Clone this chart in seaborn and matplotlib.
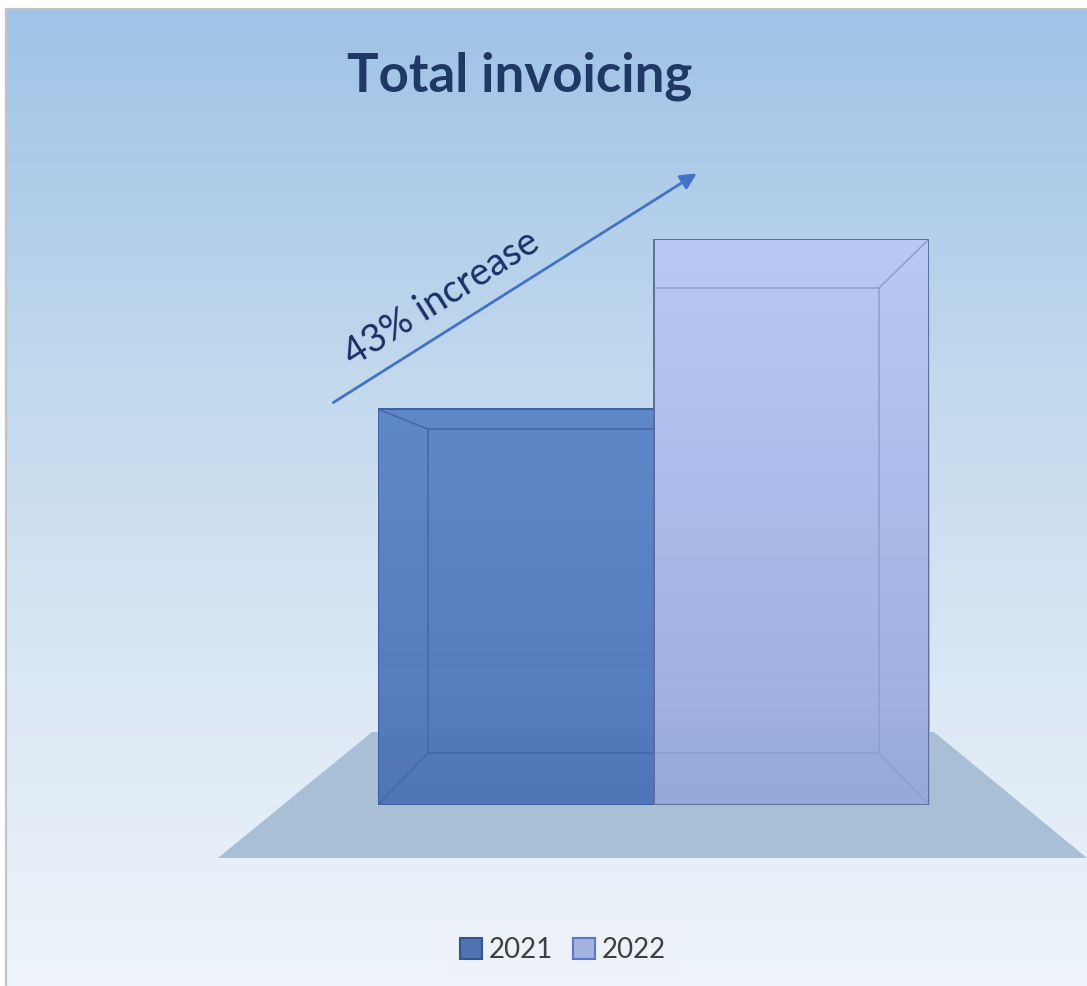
import numpy as np
import pandas as pd
import seaborn as sns
import matplotlib.pyplot as plt
from matplotlib.patches import Polygon, Patch
from matplotlib.colors import LinearSegmentedColormap

# --- data ---
years = ["2021", "2022"]
invoicing = [100, 143]
title_text = "Total invoicing"
increase_label = "43% increase"

front_colors = ["#5a84c6", "#bacaf7"]
bottom_colors = ["#4b72b7", "#97a8da"]
edge_colors = ["#3f5e9e", "#5f6e9c"]
legend_fill = ["#4f72b3", "#a3b3e0"]
legend_edge = ["#34558f", "#5a78c8"]

sns.set_theme(style="white")
plt.rcParams["font.family"] = ["Lato", "DejaVu Sans"]

W, H = 1087, 986
fig = plt.figure(figsize=(W / 100, H / 100), dpi=100)
fig.patch.set_facecolor("white")

# background panel in pixel coordinates
bg = fig.add_axes([0, 0, 1, 1])
bg.set_xlim(0, W)
bg.set_ylim(H, 0)
bg.axis("off")

grad = np.linspace(0, 1, 256)[:, None]
cmap_bg = LinearSegmentedColormap.from_list(
    "bg", [(0, "#9fc3e6"), (0.4, "#c4daee"), (0.72, "#dde9f5"), (1, "#eef4fa")])
bg.imshow(grad, extent=(6, W, H, 10), aspect="auto", cmap=cmap_bg, zorder=0)
bg.plot([5.5, 5.5], [9, H], color="#c4c4c4", lw=1.6, zorder=1)
bg.plot([5.5, W], [9, 9], color="#c4c4c4", lw=1.6, zorder=1)

# floor
floor = Polygon([(218, 858), (W, 858), (934, 732), (372, 732)],
                closed=True, facecolor="#a9bfd6", edgecolor="none", zorder=1)
bg.add_patch(floor)

# title
bg.text(520, 76, title_text, ha="center", va="center", fontsize=38,
        fontweight="bold", color="#1f3864", zorder=5)

# trend arrow with label
bg.annotate("", xy=(699, 172), xytext=(331, 404),
            arrowprops=dict(arrowstyle="-|>", color="#4472c4", lw=2,
                            mutation_scale=24), zorder=5)
bg.text(442, 298, increase_label, rotation=32.2, rotation_mode="anchor",
        ha="center", va="center", fontsize=27.5, color="#1c2f66", zorder=5)

# bar axes
x0_px, x1_px, base_px = 378, 929, 805
ymax = max(invoicing)
top_px = 239
ax = fig.add_axes([x0_px / W, (H - base_px) / H, (x1_px - x0_px) / W,
                   (base_px - top_px) / H])
ax.patch.set_alpha(0)
df = pd.DataFrame({"year": years, "value": invoicing})
sns.barplot(data=df, x="year", y="value", hue="year", palette=front_colors,
            width=1.0, saturation=1, legend=False, ax=ax, zorder=2)
ax.set_xlim(-0.5, 1.5)
ax.set_ylim(0, ymax)
ax.axis("off")

px_x = (x1_px - x0_px) / 2.0           # pixels per x unit
px_y = (base_px - top_px) / ymax       # pixels per y unit

for i, p in enumerate(ax.patches):
    bx, bw, bh = p.get_x(), p.get_width(), p.get_height()
    cm = LinearSegmentedColormap.from_list(f"bar{i}", [front_colors[i], bottom_colors[i]])
    im = ax.imshow(grad, extent=(bx, bx + bw, 0, bh), aspect="auto", cmap=cm,
                   zorder=2.1, alpha=0.95)
    im.set_clip_path(p)
    # outline drawn above the gradient fill
    p.set_facecolor("none")
    p.set_edgecolor(edge_colors[i])
    p.set_linewidth(1.4)
    p.set_zorder(3.5)

ax.set_xlim(-0.5, 1.5)
ax.set_ylim(0, ymax)

# box-style inner edges
inset_x = 50 / px_x
bottom_inset = 52 / px_y
b0, b1 = ax.patches[0], ax.patches[1]
h0, h1 = b0.get_height(), b1.get_height()
top_in0 = 20 / px_y
top_in1 = 49 / px_y
lx0 = b0.get_x()
rx1 = b1.get_x() + b1.get_width()
mid = b1.get_x()
line_kw = dict(lw=1.1, zorder=3)
c0, c1 = "#4666a8", "#8f9fcd"
# 2021 bar
ax.plot([lx0, lx0 + inset_x], [h0, h0 - top_in0], color=c0, **line_kw)
ax.plot([lx0 + inset_x, mid], [h0 - top_in0, h0 - top_in0], color=c0, **line_kw)
ax.plot([lx0 + inset_x, lx0 + inset_x], [h0 - top_in0, bottom_inset], color=c0, **line_kw)
ax.plot([lx0, lx0 + inset_x], [0, bottom_inset], color=c0, **line_kw)
ax.plot([lx0 + inset_x, mid], [bottom_inset, bottom_inset], color=c0, **line_kw)
# 2022 bar
ax.plot([rx1, rx1 - inset_x], [h1, h1 - top_in1], color=c1, **line_kw)
ax.plot([mid, rx1 - inset_x], [h1 - top_in1, h1 - top_in1], color=c1, **line_kw)
ax.plot([rx1 - inset_x, rx1 - inset_x], [h1 - top_in1, bottom_inset], color=c1, **line_kw)
ax.plot([rx1, rx1 - inset_x], [0, bottom_inset], color=c1, **line_kw)
ax.plot([mid, rx1 - inset_x], [bottom_inset, bottom_inset], color=c1, **line_kw)

# legend
handles = [Patch(facecolor=legend_fill[i], edgecolor=legend_edge[i], lw=1.5, label=y)
           for i, y in enumerate(years)]
leg = fig.legend(handles=handles, loc="center", bbox_to_anchor=(563 / W, 1 - 950 / H),
                 ncol=2, frameon=True, fontsize=20, handlelength=0.8, handleheight=0.8,
                 handletextpad=0.25, columnspacing=0.7, borderpad=0.5, fancybox=False)
leg.get_frame().set_facecolor("#edf2f8")
leg.get_frame().set_edgecolor("none")
for t in leg.get_texts():
    t.set_color("#404040")

fig.savefig("out.png", dpi=100)
